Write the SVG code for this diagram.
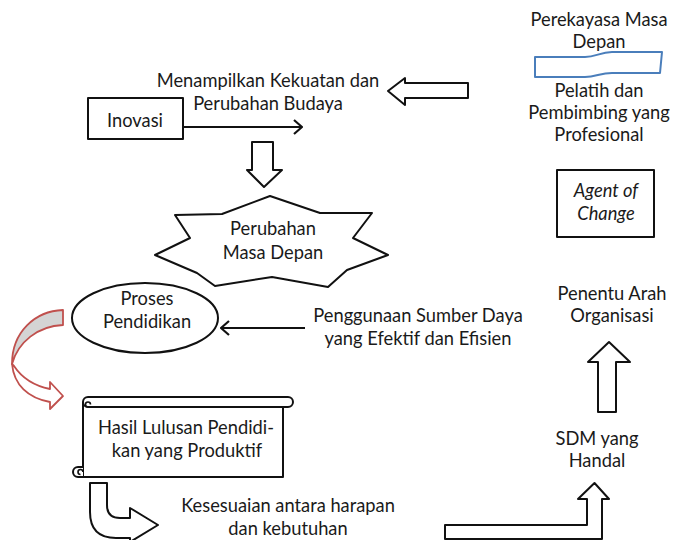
<svg xmlns="http://www.w3.org/2000/svg" width="673" height="540" viewBox="0 0 673 540">
<style>
text { font-family: Lato, "Liberation Sans", sans-serif; font-size: 18.3px; fill: #1a1a1a; text-anchor: middle; }
.it { font-style: italic; }
.shape { fill: #fff; stroke: #111; stroke-width: 2; stroke-linejoin: round; }
.line { stroke: #111; stroke-width: 2.2; fill: none; }
.red { stroke: #c0504d; stroke-width: 1.8; stroke-linejoin: round; }
</style>
<defs>
<marker id="open" viewBox="0 0 10 16" refX="9" refY="8" markerWidth="10" markerHeight="16" markerUnits="userSpaceOnUse" orient="auto">
<path d="M1,1 L9,8 L1,15" fill="none" stroke="#111" stroke-width="2.2"/>
</marker>
</defs>
<rect width="673" height="540" fill="#fff"/>

<g id="connectors">
<line class="line" x1="183" y1="127" x2="302" y2="127" marker-end="url(#open)"/>
<line class="line" x1="305" y1="328" x2="221" y2="328" marker-end="url(#open)"/>
<path class="shape" d="M468,83 V98 H405 V105 L388,91 L405,78 V83 Z"/>
<path class="shape" d="M252,142 H273 V170 H282 L264,187 L247,170 H252 Z"/>
<path class="shape" d="M598,412 V362 H588 L609,342 L630,362 H616 V412 Z"/>
<path class="shape" d="M445,525 H587 V499 H578 L594.5,483 L609,499 H602 V539 H445 Z"/>
<path class="shape" d="M90,483 H107 V505 Q107,518 120,518 H130 V508 L158,525 L130,542 V538 H116 Q90,538 90,512 Z"/>
<path class="red" fill="#d4d4d4" d="M63,310 C35,311 12,332 12,364 C18,342 38,326 63,325 Z"/>
<path class="red" fill="#fff" d="M12,364 C14,385 28,398 50,402 L50,409 L63,396 L50,382 L50,389 C35,386 22,378 14,366 Z"/>
</g>

<g id="inovasi">
<rect class="shape" x="88" y="98" width="95" height="41"/>
<text x="135" y="127">Inovasi</text>
</g>

<g id="menampilkan">
<text x="268" y="87">Menampilkan Kekuatan dan</text>
<text x="268" y="110">Perubahan Budaya</text>
</g>

<g id="perubahan">
<polygon class="shape" points="270,196 320,213 372,213 353,238 388,255 347,270 328,287 272,277 215,286 197,273 155,255 190,238 175,215 222,214"/>
<text x="273" y="235">Perubahan</text>
<text x="273" y="259">Masa Depan</text>
</g>

<g id="proses">
<ellipse class="shape" cx="145" cy="318" rx="73" ry="35"/>
<text x="147" y="305">Proses</text>
<text x="147" y="328">Pendidikan</text>
</g>

<g id="penggunaan">
<text x="418" y="322">Penggunaan Sumber Daya</text>
<text x="418" y="345">yang Efektif dan Efisien</text>
</g>

<g id="hasil">
<path class="shape" d="M83,402 V477 H283 V407"/>
<path class="shape" d="M88,397 H288 A5,5 0 0 1 288,407 H88 A5,5 0 0 1 88,397 Z"/>
<path fill="none" stroke="#111" stroke-width="1.6" d="M88,407 A2.5,2.5 0 0 1 88,402 A2.5,2.5 0 0 1 90.5,404.5"/>
<path class="shape" d="M83,477 H78 A5,5 0 0 1 78,467 H83"/>
<path fill="none" stroke="#111" stroke-width="1.6" d="M83,472 A2.5,2.5 0 0 0 78,472 A2.5,2.5 0 0 0 80.5,474.5"/>
<text x="186" y="434">Hasil Lulusan Pendidi-</text>
<text x="187" y="457">kan yang Produktif</text>
</g>

<g id="kesesuaian">
<text x="288" y="512">Kesesuaian antara harapan</text>
<text x="288" y="535">dan kebutuhan</text>
</g>

<g id="sdm">
<text x="597" y="445">SDM yang</text>
<text x="597" y="467">Handal</text>
</g>

<g id="penentu">
<text x="612" y="300">Penentu Arah</text>
<text x="612" y="322">Organisasi</text>
</g>

<g id="agent">
<rect class="shape" x="557" y="170" width="97" height="67"/>
<text class="it" x="606" y="197">Agent of</text>
<text class="it" x="606" y="220">Change</text>
</g>

<g id="pelatih">
<text x="599" y="97">Pelatih dan</text>
<text x="599" y="119">Pembimbing yang</text>
<text x="599" y="141">Profesional</text>
</g>

<g id="perekayasa">
<text x="599" y="26">Perekayasa Masa</text>
<text x="599" y="48">Depan</text>
<path fill="none" stroke="#4a7ebb" stroke-width="2" stroke-linejoin="round" d="M535,57 H585 C596,57 600,52 612,52 H662 L660,73 H612 C600,73 596,77 585,77 H535 Z"/>
</g>
</svg>
